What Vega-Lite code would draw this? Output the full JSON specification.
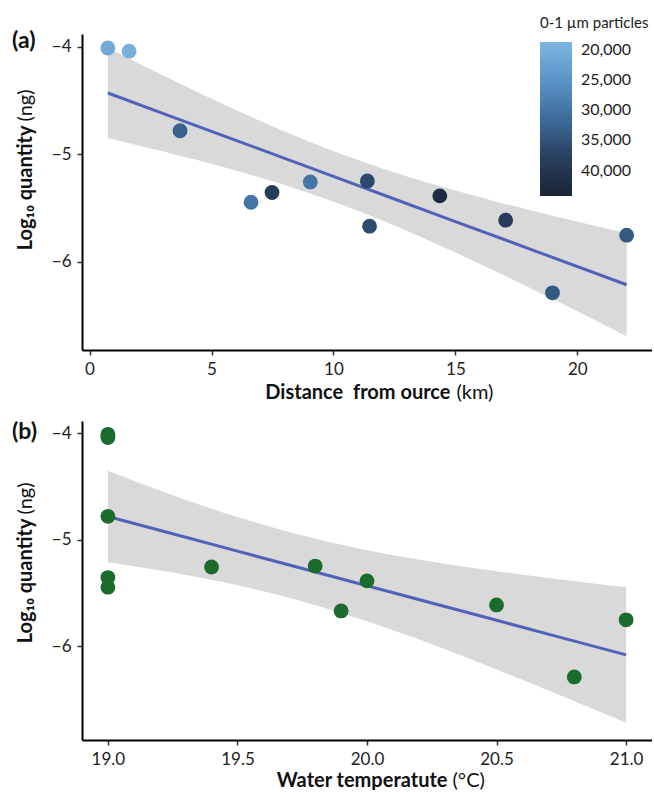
{
  "$schema": "https://vega.github.io/schema/vega-lite/v6.json",
  "padding": {"left": 12, "top": 16, "right": 0, "bottom": 0},
  "spacing": 19,
  "config": {
    "font": "Lato",
    "view": {"stroke": null},
    "axis": {"grid": false, "domainColor": "#000000", "domainWidth": 2, "tickColor": "#333333", "tickWidth": 1.5, "tickSize": 5, "labelFontSize": 17, "labelColor": "#222222", "titleFontSize": 20, "titleColor": "#111111", "labelPadding": 6},
    "title": {"fontSize": 23, "fontWeight": "bold", "color": "#111111"}
  },
  "datasets": {
    "pts": [
      {"dist": 0.75, "temp": 19.0, "logq": -4.01, "particles": 20800},
      {"dist": 1.62, "temp": 19.0, "logq": -4.04, "particles": 19800},
      {"dist": 3.71, "temp": 19.0, "logq": -4.78, "particles": 33000},
      {"dist": 6.62, "temp": 19.0, "logq": -5.445, "particles": 30000},
      {"dist": 7.48, "temp": 19.0, "logq": -5.355, "particles": 38500},
      {"dist": 9.05, "temp": 19.4, "logq": -5.256, "particles": 30000},
      {"dist": 11.39, "temp": 19.8, "logq": -5.247, "particles": 36500},
      {"dist": 11.48, "temp": 19.9, "logq": -5.668, "particles": 36000},
      {"dist": 14.36, "temp": 20.0, "logq": -5.386, "particles": 42500},
      {"dist": 17.06, "temp": 20.5, "logq": -5.612, "particles": 39000},
      {"dist": 18.98, "temp": 20.8, "logq": -6.288, "particles": 34000},
      {"dist": 22.02, "temp": 21.0, "logq": -5.752, "particles": 34000}
    ],
    "fitA": [
      {"x": 0.75, "lo": -4.847, "hi": -4.011, "fit": -4.429},
      {"x": 3, "lo": -4.972, "hi": -4.264, "fit": -4.618},
      {"x": 6, "lo": -5.151, "hi": -4.587, "fit": -4.869},
      {"x": 9, "lo": -5.361, "hi": -4.881, "fit": -5.121},
      {"x": 10.38, "lo": -5.471, "hi": -5.002, "fit": -5.237},
      {"x": 12, "lo": -5.615, "hi": -5.131, "fit": -5.373},
      {"x": 15, "lo": -5.912, "hi": -5.337, "fit": -5.625},
      {"x": 18, "lo": -6.237, "hi": -5.516, "fit": -5.876},
      {"x": 22.02, "lo": -6.693, "hi": -5.734, "fit": -6.213}
    ],
    "fitB": [
      {"x": 19.0, "lo": -5.212, "hi": -4.352, "fit": -4.782},
      {"x": 19.25, "lo": -5.308, "hi": -4.581, "fit": -4.944},
      {"x": 19.5, "lo": -5.427, "hi": -4.787, "fit": -5.107},
      {"x": 19.7, "lo": -5.545, "hi": -4.928, "fit": -5.237},
      {"x": 20.0, "lo": -5.766, "hi": -5.098, "fit": -5.432},
      {"x": 20.25, "lo": -5.982, "hi": -5.206, "fit": -5.594},
      {"x": 20.5, "lo": -6.217, "hi": -5.295, "fit": -5.756},
      {"x": 20.75, "lo": -6.464, "hi": -5.373, "fit": -5.919},
      {"x": 21.0, "lo": -6.718, "hi": -5.445, "fit": -6.081}
    ]
  },
  "vconcat": [
    {
      "width": 570,
      "height": 316,
      "title": {"text": "(a)", "anchor": "start", "frame": "group", "dx": -70, "dy": 23},
      "layer": [
        {
          "data": {"name": "fitA"},
          "mark": {"type": "area", "color": "#d9d9d9", "interpolate": "monotone"},
          "encoding": {
            "x": {"field": "x", "type": "quantitative", "scale": {"domain": [-0.31, 23.06], "nice": false, "zero": false},
              "axis": {"title": "Distance\u00a0 from ource", "orient": "bottom", "values": [0, 5, 10, 15, 20], "titleFontWeight": "bold", "titleAlign": "right", "titleBaseline": "alphabetic", "titleX": 368, "titleY": 48}},
            "y": {"field": "lo", "type": "quantitative", "scale": {"domain": [-6.82, -3.88], "nice": false, "zero": false},
              "axis": {"title": "Log\u2081\u2080 quantity", "orient": "left", "values": [-4, -5, -6], "format": "d", "labelPadding": 6, "titleFontWeight": "bold", "titleAngle": -90, "titleAlign": "right", "titleBaseline": "middle", "titleX": -57, "titleY": 91}},
            "y2": {"field": "hi"}
          }
        },
        {
          "data": {"name": "fitA"},
          "mark": {"type": "line", "color": "#5262b8", "strokeWidth": 3},
          "encoding": {
            "x": {"field": "x", "type": "quantitative",
              "axis": {"title": "(km)", "orient": "bottom", "labels": false, "ticks": false, "domain": false, "titleFontWeight": "normal", "titleAlign": "left", "titleBaseline": "alphabetic", "titleX": 374, "titleY": 48}},
            "y": {"field": "fit", "type": "quantitative",
              "axis": {"title": "(ng)", "orient": "left", "labels": false, "ticks": false, "domain": false, "titleFontWeight": "normal", "titleAngle": -90, "titleAlign": "left", "titleBaseline": "middle", "titleX": -57, "titleY": 87}}
          }
        },
        {
          "data": {"name": "pts"},
          "mark": {"type": "circle", "size": 220, "opacity": 1},
          "encoding": {
            "x": {"field": "dist", "type": "quantitative", "axis": null},
            "y": {"field": "logq", "type": "quantitative", "axis": null},
            "color": {"field": "particles", "type": "quantitative",
              "scale": {"domain": [44200, 18700], "range": ["#1b2435", "#27405f", "#3d6d9b", "#5a93c7", "#7eb5df"]},
              "legend": {"orient": "none", "legendX": 458, "legendY": -18, "direction": "vertical", "title": "0-1 \u00b5m particles", "titleFontSize": 15, "titleFontWeight": "normal", "titleColor": "#222222", "titlePadding": 11, "gradientLength": 154, "gradientThickness": 32, "gradientStrokeWidth": 0, "labelFontSize": 16, "labelColor": "#222222", "labelOffset": 9, "values": [20000, 25000, 30000, 35000, 40000], "format": ",.0f"}}
          }
        }
      ],
      "resolve": {"axis": {"x": "independent", "y": "independent"}}
    },
    {
      "width": 570,
      "height": 319,
      "title": {"text": "(b)", "anchor": "start", "frame": "group", "dx": -70, "dy": 27},
      "layer": [
        {
          "data": {"name": "fitB"},
          "mark": {"type": "area", "color": "#d9d9d9", "interpolate": "monotone"},
          "encoding": {
            "x": {"field": "x", "type": "quantitative", "scale": {"domain": [18.9, 21.1], "nice": false, "zero": false},
              "axis": {"title": "Water temperatute", "orient": "bottom", "values": [19, 19.5, 20, 20.5, 21], "format": ".1f", "titleFontWeight": "bold", "titleAlign": "right", "titleBaseline": "alphabetic", "titleX": 365, "titleY": 46}},
            "y": {"field": "lo", "type": "quantitative", "scale": {"domain": [-6.88, -3.885], "nice": false, "zero": false},
              "axis": {"title": "Log\u2081\u2080 quantity", "orient": "left", "values": [-4, -5, -6], "format": "d", "labelPadding": 6, "titleFontWeight": "bold", "titleAngle": -90, "titleAlign": "right", "titleBaseline": "middle", "titleX": -57, "titleY": 97}},
            "y2": {"field": "hi"}
          }
        },
        {
          "data": {"name": "fitB"},
          "mark": {"type": "line", "color": "#5262b8", "strokeWidth": 3},
          "encoding": {
            "x": {"field": "x", "type": "quantitative",
              "axis": {"title": "(\u00b0C)", "orient": "bottom", "labels": false, "ticks": false, "domain": false, "titleFontWeight": "normal", "titleAlign": "left", "titleBaseline": "alphabetic", "titleX": 370, "titleY": 46}},
            "y": {"field": "fit", "type": "quantitative",
              "axis": {"title": "(ng)", "orient": "left", "labels": false, "ticks": false, "domain": false, "titleFontWeight": "normal", "titleAngle": -90, "titleAlign": "left", "titleBaseline": "middle", "titleX": -57, "titleY": 93}}
          }
        },
        {
          "data": {"name": "pts"},
          "mark": {"type": "circle", "size": 220, "opacity": 1, "color": "#1b6b2c"},
          "encoding": {
            "x": {"field": "temp", "type": "quantitative", "axis": null},
            "y": {"field": "logq", "type": "quantitative", "axis": null}
          }
        }
      ],
      "resolve": {"axis": {"x": "independent", "y": "independent"}}
    }
  ]
}
